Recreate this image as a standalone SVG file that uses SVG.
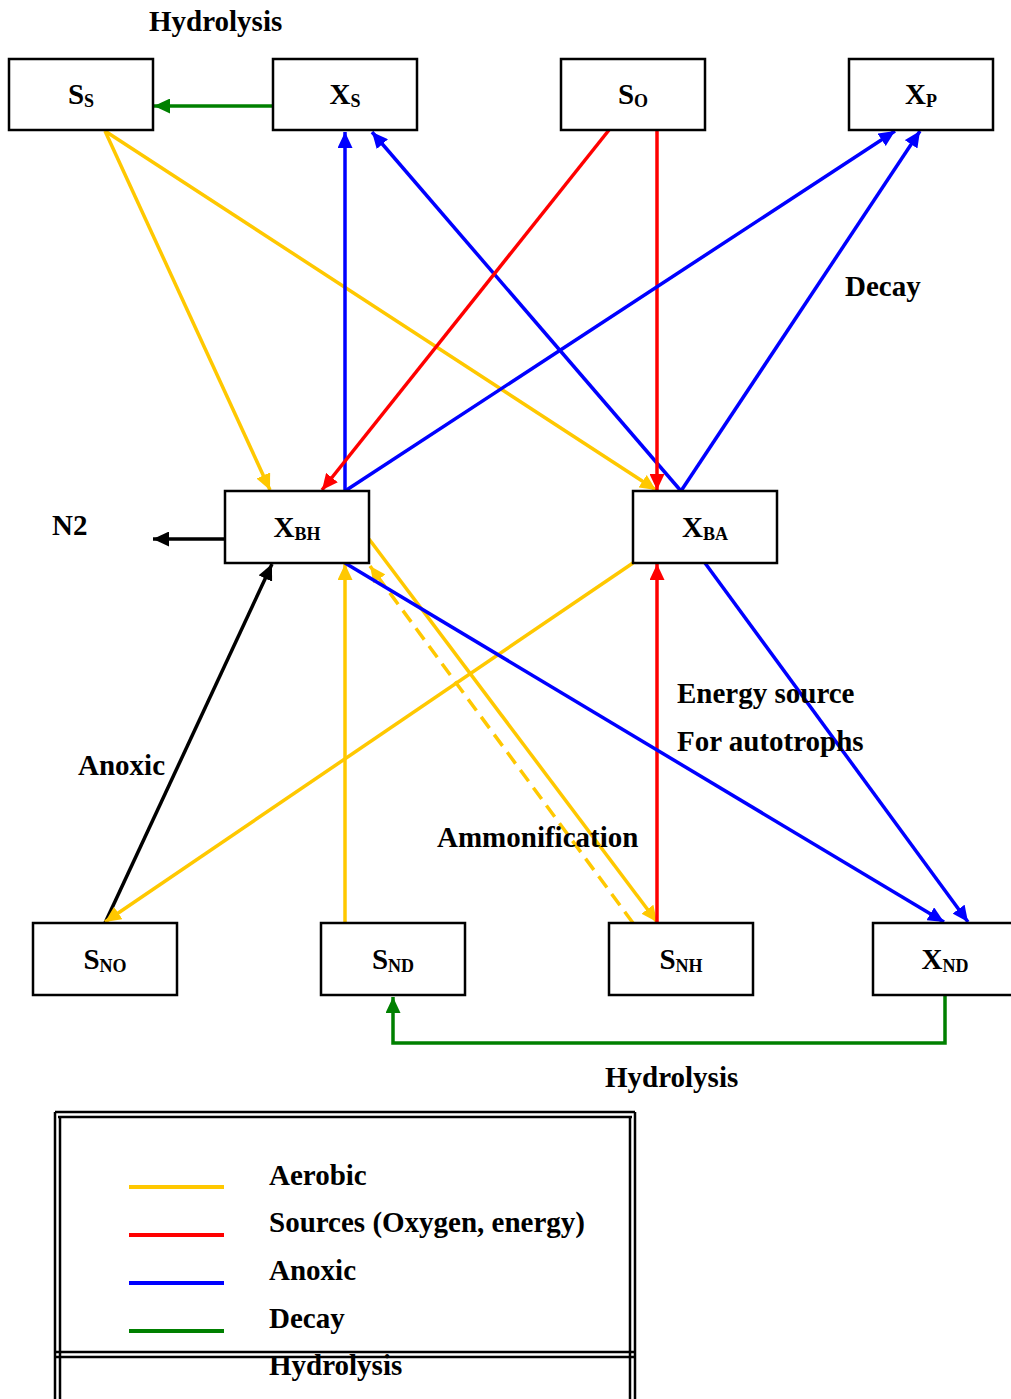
<svg xmlns="http://www.w3.org/2000/svg" width="1011" height="1399" viewBox="0 0 1011 1399">
<style>
  .box rect { fill: #fff; stroke: #000; stroke-width: 2.5; }
  .lbl { font-family: "Liberation Serif", "Times New Roman", serif; font-weight: bold; font-size: 29px; fill: #000; }
  .sub { font-size: 18px; }
  .c { fill: none; stroke-width: 3.5; }
  .y { stroke: #FFC800; }
  .r { stroke: #FF0000; }
  .b { stroke: #0000FF; }
  .g { stroke: #008000; }
  .k { stroke: #000; }
  .lg { stroke-width: 4; }
  .leg { fill: none; stroke: #000; stroke-width: 2.5; }
</style>
<defs>
  <marker id="ay" viewBox="0 0 16 15" refX="16" refY="7.5" markerWidth="16" markerHeight="15" orient="auto" markerUnits="userSpaceOnUse"><path d="M0,0 L16,7.5 L0,15 z" fill="#FFC800"/></marker>
  <marker id="ar" viewBox="0 0 16 15" refX="16" refY="7.5" markerWidth="16" markerHeight="15" orient="auto" markerUnits="userSpaceOnUse"><path d="M0,0 L16,7.5 L0,15 z" fill="#FF0000"/></marker>
  <marker id="ab" viewBox="0 0 16 15" refX="16" refY="7.5" markerWidth="16" markerHeight="15" orient="auto" markerUnits="userSpaceOnUse"><path d="M0,0 L16,7.5 L0,15 z" fill="#0000FF"/></marker>
  <marker id="ag" viewBox="0 0 16 15" refX="16" refY="7.5" markerWidth="16" markerHeight="15" orient="auto" markerUnits="userSpaceOnUse"><path d="M0,0 L16,7.5 L0,15 z" fill="#008000"/></marker>
  <marker id="ak" viewBox="0 0 16 15" refX="16" refY="7.5" markerWidth="16" markerHeight="15" orient="auto" markerUnits="userSpaceOnUse"><path d="M0,0 L16,7.5 L0,15 z" fill="#000"/></marker>
</defs>

<g id="connectors">
  <line class="c g" x1="273" y1="106" x2="154" y2="106" marker-end="url(#ag)"/>
  <line class="c y" x1="105" y1="131" x2="270" y2="490" marker-end="url(#ay)"/>
  <line class="c y" x1="105" y1="131" x2="656" y2="490" marker-end="url(#ay)"/>
  <line class="c b" x1="345" y1="491" x2="345" y2="132" marker-end="url(#ab)"/>
  <line class="c b" x1="681" y1="491" x2="372" y2="132" marker-end="url(#ab)"/>
  <line class="c r" x1="609" y1="130" x2="322" y2="490" marker-end="url(#ar)"/>
  <line class="c r" x1="657" y1="130" x2="657" y2="490" marker-end="url(#ar)"/>
  <line class="c b" x1="345" y1="491" x2="895" y2="131" marker-end="url(#ab)"/>
  <line class="c b" x1="681" y1="491" x2="920" y2="131" marker-end="url(#ab)"/>
  <line class="c k" x1="225" y1="539" x2="153" y2="539" marker-end="url(#ak)"/>
  <line class="c k" x1="105" y1="923" x2="272" y2="564" marker-end="url(#ak)"/>
  <line class="c y" x1="345" y1="923" x2="345" y2="564" marker-end="url(#ay)"/>
  <line class="c y" x1="633" y1="923" x2="370" y2="566" stroke-dasharray="14,8" marker-end="url(#ay)"/>
  <line class="c y" x1="369" y1="539" x2="657" y2="922" marker-end="url(#ay)"/>
  <line class="c y" x1="633" y1="563" x2="105" y2="922" marker-end="url(#ay)"/>
  <line class="c r" x1="657" y1="923" x2="657" y2="564" marker-end="url(#ar)"/>
  <line class="c b" x1="345" y1="563" x2="944" y2="922" marker-end="url(#ab)"/>
  <line class="c b" x1="705" y1="563" x2="968" y2="922" marker-end="url(#ab)"/>
  <polyline class="c g" points="945,996 945,1043 393,1043 393,997" marker-end="url(#ag)"/>
</g>

<g id="node-SS" class="box"><rect x="9" y="59" width="144" height="71"/><text class="lbl" x="81" y="104" text-anchor="middle">S<tspan class="sub" dy="3">S</tspan></text></g>
<g id="node-XS" class="box"><rect x="273" y="59" width="144" height="71"/><text class="lbl" x="345" y="104" text-anchor="middle">X<tspan class="sub" dy="3">S</tspan></text></g>
<g id="node-SO" class="box"><rect x="561" y="59" width="144" height="71"/><text class="lbl" x="633" y="104" text-anchor="middle">S<tspan class="sub" dy="3">O</tspan></text></g>
<g id="node-XP" class="box"><rect x="849" y="59" width="144" height="71"/><text class="lbl" x="921" y="104" text-anchor="middle">X<tspan class="sub" dy="3">P</tspan></text></g>
<g id="node-XBH" class="box"><rect x="225" y="491" width="144" height="72"/><text class="lbl" x="297" y="537" text-anchor="middle">X<tspan class="sub" dy="3">BH</tspan></text></g>
<g id="node-XBA" class="box"><rect x="633" y="491" width="144" height="72"/><text class="lbl" x="705" y="537" text-anchor="middle">X<tspan class="sub" dy="3">BA</tspan></text></g>
<g id="node-SNO" class="box"><rect x="33" y="923" width="144" height="72"/><text class="lbl" x="105" y="969" text-anchor="middle">S<tspan class="sub" dy="3">NO</tspan></text></g>
<g id="node-SND" class="box"><rect x="321" y="923" width="144" height="72"/><text class="lbl" x="393" y="969" text-anchor="middle">S<tspan class="sub" dy="3">ND</tspan></text></g>
<g id="node-SNH" class="box"><rect x="609" y="923" width="144" height="72"/><text class="lbl" x="681" y="969" text-anchor="middle">S<tspan class="sub" dy="3">NH</tspan></text></g>
<g id="node-XND" class="box"><rect x="873" y="923" width="144" height="72"/><text class="lbl" x="945" y="969" text-anchor="middle">X<tspan class="sub" dy="3">ND</tspan></text></g>

<g id="labels">
  <text class="lbl" x="149" y="31">Hydrolysis</text>
  <text class="lbl" x="845" y="296">Decay</text>
  <text class="lbl" x="52" y="535">N2</text>
  <text class="lbl" x="78" y="775">Anoxic</text>
  <text class="lbl" x="677" y="703">Energy source</text>
  <text class="lbl" x="677" y="751">For autotrophs</text>
  <text class="lbl" x="437" y="847">Ammonification</text>
  <text class="lbl" x="605" y="1087">Hydrolysis</text>
</g>

<g id="legend">
  <line class="leg" x1="55" y1="1112" x2="635" y2="1112"/>
  <line class="leg" x1="58" y1="1117" x2="632" y2="1117"/>
  <line class="leg" x1="55" y1="1352" x2="635" y2="1352"/>
  <line class="leg" x1="55" y1="1357" x2="635" y2="1357"/>
  <line class="leg" x1="55" y1="1112" x2="55" y2="1399"/>
  <line class="leg" x1="60" y1="1117" x2="60" y2="1399"/>
  <line class="leg" x1="630" y1="1117" x2="630" y2="1399"/>
  <line class="leg" x1="635" y1="1112" x2="635" y2="1399"/>
  <line class="c lg y" x1="129" y1="1187" x2="224" y2="1187"/>
  <line class="c lg r" x1="129" y1="1235" x2="224" y2="1235"/>
  <line class="c lg b" x1="129" y1="1283" x2="224" y2="1283"/>
  <line class="c lg g" x1="129" y1="1331" x2="224" y2="1331"/>
  <text class="lbl" x="269" y="1185">Aerobic</text>
  <text class="lbl" x="269" y="1232">Sources (Oxygen, energy)</text>
  <text class="lbl" x="269" y="1280">Anoxic</text>
  <text class="lbl" x="269" y="1328">Decay</text>
  <text class="lbl" x="269" y="1375">Hydrolysis</text>
</g>
</svg>
